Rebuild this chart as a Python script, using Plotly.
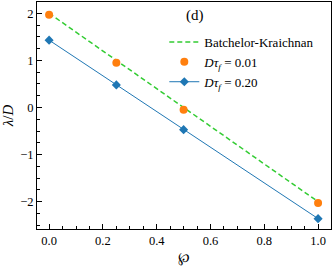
import plotly.graph_objects as go

phi_bk = [0.0, 1.0]
lam_bk = [2.0, -2.0]
phi = [0.0, 0.25, 0.5, 1.0]
lam_001 = [1.97, 0.95, -0.05, -2.03]
lam_020 = [1.43, 0.48, -0.47, -2.36]

FONT = "'Liberation Serif', 'Times New Roman', serif"

fig = go.Figure()
fig.add_trace(go.Scatter(x=phi_bk, y=lam_bk, mode="lines", name="Batchelor-Kraichnan",
                         line=dict(color="#33cc33", width=1.5, dash="5px,3px")))
fig.add_trace(go.Scatter(x=phi, y=lam_001, mode="markers", name="<i>Dτ</i><sub><i>f</i></sub> = 0.01",
                         marker=dict(color="#ff7f0e", size=8, symbol="circle")))
fig.add_trace(go.Scatter(x=phi, y=lam_020, mode="lines+markers", name="<i>Dτ</i><sub><i>f</i></sub> = 0.20",
                         line=dict(color="#1f77b4", width=1),
                         marker=dict(color="#1f77b4", size=7, symbol="diamond")))

axis_common = dict(showgrid=False, zeroline=False, showline=True, linecolor="black", linewidth=1,
                   mirror=True, ticks="inside", ticklen=5, tickcolor="black",
                   tickfont=dict(family=FONT, size=12.5, color="black"))

fig.update_xaxes(range=[-0.045, 1.048], tickmode="array", tickvals=[0, 0.2, 0.4, 0.6, 0.8, 1.0],
                 ticktext=["0.0", "0.2", "0.4", "0.6", "0.8", "1.0"],
                 minor=dict(dtick=0.05, tick0=0, ticks="inside", ticklen=3, tickcolor="black"),
                 title=dict(text="℘", font=dict(family=FONT, size=14, color="black"), standoff=5),
                 **axis_common)
fig.update_yaxes(range=[-2.58, 2.24], tickmode="array", tickvals=[-2, -1, 0, 1, 2],
                 ticktext=["−2", "−1", "0", "1", "2"],
                 minor=dict(dtick=0.25, tick0=0, ticks="inside", ticklen=3, tickcolor="black"),
                 title=dict(text="<i>λ</i>/<i>D</i>", font=dict(family=FONT, size=15, color="black"), standoff=5),
                 **axis_common)

fig.add_annotation(x=0.537, y=0.985, xref="paper", yref="paper", text="(d)", showarrow=False,
                   xanchor="center", yanchor="top", font=dict(family=FONT, size=15, color="black"))

fig.update_layout(width=333, height=266, margin=dict(l=37, r=2, t=2, b=37),
                  plot_bgcolor="white", paper_bgcolor="white",
                  legend=dict(x=0.433, y=0.89, xanchor="left", yanchor="top", bgcolor="rgba(0,0,0,0)",
                              font=dict(family=FONT, size=13, color="black"), tracegroupgap=0,
                              itemwidth=30))

fig.write_html("out.html", config={"displayModeBar": False},
               post_script="document.body.style.margin='0';document.body.style.padding='0';")
